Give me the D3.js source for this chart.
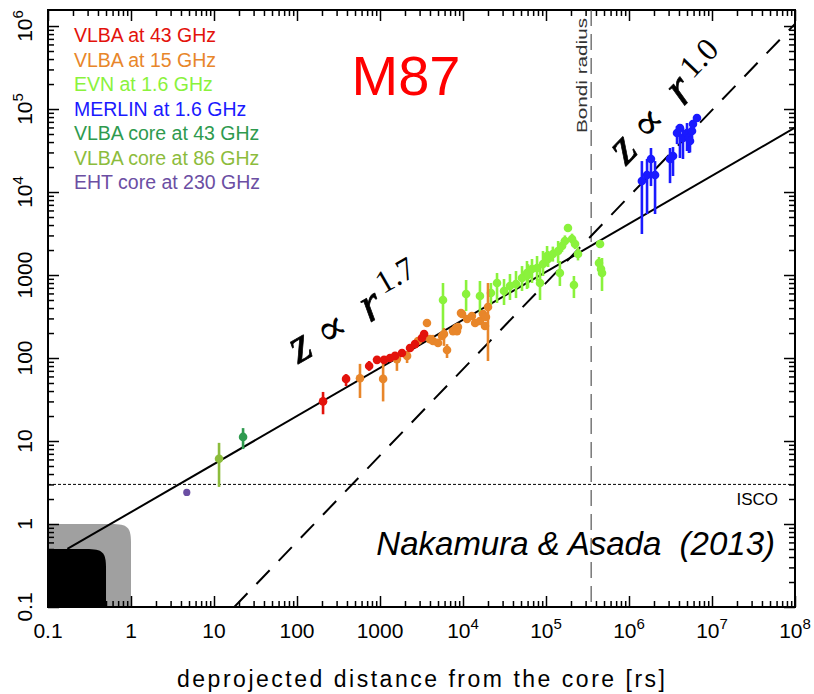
<!DOCTYPE html>
<html>
<head>
<meta charset="utf-8">
<script src="https://cdn.jsdelivr.net/npm/d3@7"></script>
<style>
  body { margin: 0; background: #fff; }
  svg { display: block; }
  text { font-family: "Liberation Sans", Arial, sans-serif; }
</style>
</head>
<body>
<svg id="chart" width="814" height="694"></svg>
<script>
// each point: [r, z, zLow, zHigh]  (distance, width, error bar range)
const vlba43 = [
  [206, 30, 21, 39], [390, 56, 46, 64], [740, 80, 70, 92], [920, 95, 89, 101],
  [1120, 95, 89, 101], [1320, 100, 94, 106], [1520, 106, 100, 112], [1840, 115, 108, 122],
  [2300, 132, 124, 140], [2640, 147, 138, 156], [3200, 174, 164, 184], [3400, 195, 184, 206]
];
const vlba15 = [
  [574, 57, 33, 85], [1090, 56, 30, 87], [1600, 97, 70, 106], [2120, 106, 87, 121],
  [2870, 160, 148, 172], [3680, 264, 250, 278], [4000, 169, 158, 180], [4350, 160, 148, 190],
  [5000, 152, 140, 165], [5590, 184, 172, 196], [5900, 195, 140, 230], [6420, 125, 100, 147],
  [7580, 211, 198, 224], [8010, 217, 204, 230], [8240, 230, 216, 244], [8470, 211, 198, 224],
  [8700, 236, 222, 250], [9460, 348, 330, 366], [9730, 339, 320, 358], [11200, 295, 278, 312],
  [12800, 321, 303, 339], [14000, 264, 249, 279], [16000, 279, 263, 295], [17400, 339, 320, 358],
  [18400, 243, 229, 257], [18900, 312, 294, 330], [20000, 411, 92, 801]
];
const evn = [
  [5740, 500, 211, 801], [10900, 590, 368, 871], [16000, 558, 339, 847], [21700, 607, 435, 801],
  [25700, 801, 460, 1057], [31200, 642, 435, 896], [36800, 737, 500, 1028], [43500, 779, 528, 1117],
  [51400, 920, 642, 1283], [59000, 1057, 678, 1475], [60700, 1000, 700, 1350], [67800, 1181, 801, 1560],
  [78000, 1214, 847, 1694], [84700, 801, 500, 1283], [92000, 1357, 973, 1946], [103000, 1694, 1283, 2236],
  [106000, 1560, 1250, 1950], [121000, 1791, 1450, 2200], [140000, 1946, 1396, 2570], [147000, 1057, 737, 1475],
  [156000, 2236, 1900, 2650], [169000, 2570, 2200, 3000], [184000, 3681, 3400, 4000], [206000, 2717, 2350, 3150],
  [217000, 758, 528, 973], [224000, 2363, 2050, 2700], [243000, 1791, 1500, 2150], [435000, 1396, 1200, 1650],
  [448000, 2363, 2150, 2600], [460000, 1181, 1000, 1400], [473000, 1057, 642, 1603]
];
const merlin = [
  [1.43e6, 13600, 3120, 23600], [1.65e6, 16000, 5430, 25000], [1.84e6, 25000, 11800, 33900],
  [2.06e6, 16000, 5430, 23600], [3.12e6, 25000, 12800, 33900], [3.39e6, 27200, 15600, 34800],
  [3.79e6, 51400, 37800, 62400], [4.11e6, 59000, 25700, 65900], [4.47e6, 44700, 25000, 59000],
  [5.0e6, 51400, 31200, 67800], [5.28e6, 44700, 29500, 57400], [5.43e6, 41100, 30000, 50000],
  [5.74e6, 54300, 45000, 62000], [5.9e6, 65900, 58000, 74000], [6.59e6, 78000, 70000, 86000]
];
const core43 = [[22.4, 11.2, 8.0, 14.3]];
const core86 = [[11.5, 6.1, 2.8, 9.5]];
const ehtCore = [[4.7, 2.4, 2.4, 2.4]];

const seriesNames = ["VLBA at 43 GHz", "VLBA at 15 GHz", "EVN at 1.6 GHz", "MERLIN at 1.6 GHz",
  "VLBA core at 43 GHz", "VLBA core at 86 GHz", "EHT core at 230 GHz"];
const seriesData = [vlba43, vlba15, evn, merlin, core43, core86, ehtCore];
const seriesColors = ["#e3120b", "#e8862a", "#8af23c", "#1a1aff", "#2e9a4e", "#8cbc3c", "#6b4ea3"];
const drawOrder = [2, 1, 0, 3, 4, 5, 6];

const xTicks = [0.1, 1, 10, 100, 1000, 1e4, 1e5, 1e6, 1e7, 1e8];
const yTicks = [0.1, 1, 10, 100, 1000, 1e4, 1e5, 1e6];

// power-law guides z = k * r^p
const fitParabolic = { k: 1.39, p: 0.579, label: "1.7" };
const fitConical = { k: 0.00508, p: 1.04, label: "1.0" };
const bondiRadius = 3.5e5;
const iscoZ = 3;
const shadeLimits = [1, 0.5];
const shadeColors = ["#a0a0a0", "#000000"];

const svg = d3.select("#chart");
const pLeft = 48, pRight = 795, pTop = 10, pBottom = 607;

const x = d3.scaleLog().domain([0.1, 1e8]).range([pLeft, pRight]);
const y = d3.scaleLog().domain([0.1, 1.56e6]).range([pBottom, pTop]);

svg.append("defs").append("clipPath").attr("id", "plotclip")
  .append("rect").attr("x", pLeft).attr("y", pTop)
  .attr("width", pRight - pLeft).attr("height", pBottom - pTop);

// shaded corner regions
shadeLimits.forEach((lim, i) => {
  const x1 = x(lim), y1 = y(lim), rad = 20;
  svg.append("path")
    .attr("d", `M${pLeft},${pBottom} L${pLeft},${y1} L${x1 - rad},${y1} C${x1 - 3},${y1} ${x1},${y1 + 3} ${x1},${y1 + rad} L${x1},${pBottom} Z`)
    .attr("fill", shadeColors[i]);
});

// minor tick values
const minorX = [], minorY = [];
xTicks.slice(0, -1).forEach(d => { for (let m = 2; m < 10; m++) minorX.push(d * m); });
yTicks.forEach(d => { for (let m = 2; m < 10; m++) if (d * m < 1.56e6) minorY.push(d * m); });

const axes = [
  [d3.axisBottom(x), `translate(0,${pBottom})`, xTicks, minorX],
  [d3.axisTop(x), `translate(0,${pTop})`, xTicks, minorX],
  [d3.axisLeft(y), `translate(${pLeft},0)`, yTicks, minorY],
  [d3.axisRight(y), `translate(${pRight},0)`, yTicks, minorY]
];
axes.forEach(([ax, tr, major, minor]) => {
  const gMaj = svg.append("g").attr("transform", tr)
    .call(ax.tickValues(major).tickSize(-11).tickFormat(""));
  gMaj.select(".domain").remove();
  const gMin = svg.append("g").attr("transform", tr)
    .call(ax.tickValues(minor).tickSize(-6).tickFormat(""));
  gMin.select(".domain").remove();
});
svg.selectAll(".tick line").attr("stroke", "#000").attr("stroke-width", 1.5);

svg.append("rect")
  .attr("x", pLeft).attr("y", pTop)
  .attr("width", pRight - pLeft).attr("height", pBottom - pTop)
  .attr("fill", "none").attr("stroke", "#000").attr("stroke-width", 2);

function tickText(sel, v) {
  if (v >= 1e4) {
    sel.text("10");
    sel.append("tspan").attr("dy", -9).attr("font-size", 15).text(Math.round(Math.log10(v)));
  } else {
    sel.text(v < 1 ? "0.1" : String(v));
  }
}

xTicks.forEach(v => {
  svg.append("text")
    .attr("x", x(v)).attr("y", 638)
    .attr("text-anchor", "middle")
    .attr("font-size", 21)
    .call(tickText, v);
});
yTicks.forEach(v => {
  svg.append("text")
    .attr("transform", `translate(32,${y(v)}) rotate(-90)`)
    .attr("text-anchor", "middle")
    .attr("font-size", 21)
    .call(tickText, v);
});

svg.append("text")
  .attr("x", 177).attr("y", 687)
  .attr("font-size", 23)
  .attr("textLength", 488).attr("lengthAdjust", "spacing")
  .text("deprojected distance from the core [rs]");

const plot = svg.append("g").attr("clip-path", "url(#plotclip)");

// Bondi radius and ISCO
plot.append("line")
  .attr("x1", x(bondiRadius)).attr("x2", x(bondiRadius))
  .attr("y1", pTop).attr("y2", pBottom)
  .attr("stroke", "#555").attr("stroke-width", 1.2)
  .attr("stroke-dasharray", "16,8");
plot.append("line")
  .attr("x1", pLeft).attr("x2", pRight)
  .attr("y1", y(iscoZ)).attr("y2", y(iscoZ))
  .attr("stroke", "#000").attr("stroke-width", 1)
  .attr("stroke-dasharray", "3,2");

svg.append("text")
  .attr("transform", `translate(587,133) rotate(-90)`)
  .attr("font-size", 15).attr("fill", "#333")
  .attr("textLength", 115).attr("lengthAdjust", "spacingAndGlyphs")
  .text("Bondi radius");
svg.append("text")
  .attr("x", 778).attr("y", 505)
  .attr("text-anchor", "end")
  .attr("font-size", 17)
  .text("ISCO");

// power-law lines
const line = d3.line().x(d => x(d[0])).y(d => y(d[1]));
const r0 = Math.pow(shadeLimits[1] / fitParabolic.k, 1 / fitParabolic.p);
plot.append("path")
  .attr("d", line([r0, 1e8].map(r => [r, fitParabolic.k * Math.pow(r, fitParabolic.p)])))
  .attr("fill", "none").attr("stroke", "#000").attr("stroke-width", 2);
const r1 = Math.pow(0.1 / fitConical.k, 1 / fitConical.p);
plot.append("path")
  .attr("d", line([r1, 1e8].map(r => [r, fitConical.k * Math.pow(r, fitConical.p)])))
  .attr("fill", "none").attr("stroke", "#000").attr("stroke-width", 2)
  .attr("stroke-dasharray", "19,13");

// data points with error bars
drawOrder.forEach(i => {
  const g = plot.append("g");
  g.selectAll("line").data(seriesData[i]).enter().append("line")
    .attr("x1", d => x(d[0])).attr("x2", d => x(d[0]))
    .attr("y1", d => y(d[2])).attr("y2", d => y(d[3]))
    .attr("stroke", seriesColors[i]).attr("stroke-width", 2.6);
  g.selectAll("circle").data(seriesData[i]).enter().append("circle")
    .attr("cx", d => x(d[0])).attr("cy", d => y(d[1]))
    .attr("r", i === 6 ? 3.6 : 4.3)
    .attr("fill", seriesColors[i]);
});

// legend
seriesNames.forEach((name, i) => {
  svg.append("text")
    .attr("x", 74).attr("y", 42 + i * 24.5)
    .attr("font-size", 19.5)
    .attr("fill", seriesColors[i])
    .text(name);
});

svg.append("text")
  .attr("x", 406).attr("y", 95)
  .attr("text-anchor", "middle")
  .attr("font-size", 56).attr("fill", "#ff0000")
  .text("M87");

svg.append("text")
  .attr("x", 775).attr("y", 555)
  .attr("text-anchor", "end")
  .attr("font-size", 33).attr("font-style", "italic")
  .style("white-space", "pre")
  .text("Nakamura & Asada  (2013)");

// slope labels
function slopeLabel(fit, ox, oy, angle, supRise) {
  const t = svg.append("text")
    .attr("transform", `translate(${ox},${oy}) rotate(${angle})`)
    .attr("font-size", 50)
    .style("font-family", "'Liberation Serif', 'DejaVu Serif', serif");
  t.append("tspan").attr("x", -4).attr("font-style", "italic")
    .attr("stroke", "#000").attr("stroke-width", 0.7).text("z");
  t.append("tspan").attr("x", 27).attr("y", 0)
    .style("font-family", "'DejaVu Serif', serif").attr("font-size", 44).text("\u221D");
  t.append("tspan").attr("x", 78).attr("y", 0).attr("font-style", "italic")
    .attr("stroke", "#000").attr("stroke-width", 0.7).text("r");
  t.append("tspan").attr("x", 104).attr("y", -supRise)
    .attr("font-size", 32).text(fit.label);
}
slopeLabel(fitParabolic, 302, 362, -30, 18);
slopeLabel(fitConical, 629, 163, -46, 12);
</script>
</body>
</html>
